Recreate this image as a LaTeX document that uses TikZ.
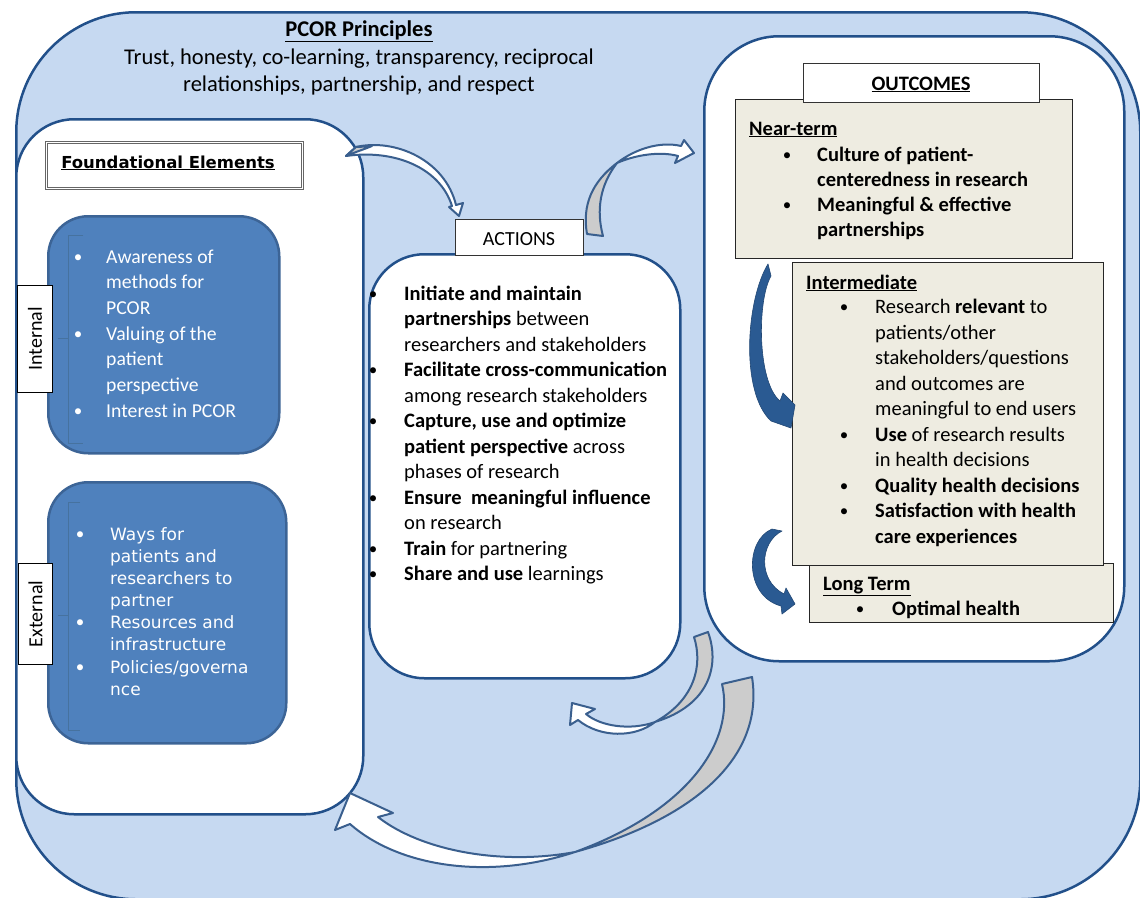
\documentclass[tikz,border=0pt]{standalone}
\usepackage{fontspec}
\setmainfont{Carlito}
\newfontfamily\verd{DejaVu Sans}
\definecolor{bgblue}{HTML}{C6D9F1}
\definecolor{edgeblue}{HTML}{22508A}
\definecolor{boxblue}{HTML}{4F81BD}
\definecolor{boxedge}{HTML}{3C6496}
\definecolor{tanfill}{HTML}{EEECE1}
\definecolor{ribedge}{HTML}{3A5F8E}
\definecolor{ribgray}{HTML}{CCCCCC}
\definecolor{darkarrow}{HTML}{2A5A92}
\definecolor{bracketc}{HTML}{46729F}
\begin{document}
\begin{tikzpicture}[x=1pt,y=-1pt,
  cont/.style={anchor=north west, inner sep=0pt},
  whitebox/.style={cont, draw=edgeblue, fill=white, line width=2.5pt},
  bluebox/.style={cont, draw=boxedge, fill=boxblue, line width=2.5pt, rounded corners=40pt},
  tanbox/.style={cont, draw=black!85, fill=tanfill, line width=1.2pt},
  labbox/.style={cont, draw=black, fill=white, line width=1pt},
  cal/.style={inner sep=0pt, font=\fontsize{20.5}{24}\selectfont},
  ln/.style={cal, anchor=base west},
  bl/.style={inner sep=0pt, anchor=base, yshift=1pt, font=\fontsize{17}{20}\selectfont},
  lni/.style={inner sep=0pt, anchor=base west, text=white, font=\fontsize{19.7}{24}\selectfont},
  bli/.style={inner sep=0pt, anchor=base, yshift=1pt, text=white, font=\fontsize{17}{20}\selectfont},
  lne/.style={inner sep=0pt, anchor=base west, text=white, font=\verd\fontsize{17}{22}\selectfont},
  top/.style={inner sep=0pt, anchor=base, font=\fontsize{22.5}{27}\selectfont},
  ribbon/.style={draw=ribedge, line width=2pt, line join=round},
  darrow/.style={fill=darkarrow, draw=darkarrow!80!black, line width=0.6pt, line join=round}
]
\useasboundingbox (0,0) rectangle (1140,897);
\clip (0,0) rectangle (1140,897);
\fill[white] (0,0) rectangle (1140,897);

% outer principles shape
\node[cont, draw=edgeblue, fill=bgblue, line width=2.5pt, rounded corners=120pt,
      minimum width=1124pt, minimum height=887pt] (outer) at (15,11) {};

% main boxes
\node[whitebox, rounded corners=58pt, minimum width=347pt, minimum height=695pt] (found) at (15,118) {};
\node[whitebox, rounded corners=55pt, minimum width=311pt, minimum height=424pt] (actions) at (368,253) {};
\node[whitebox, rounded corners=75pt, minimum width=420pt, minimum height=625pt] (outcomes) at (703,35) {};

% title text
\node[top, font=\bfseries\fontsize{22.5}{27}\selectfont] (title) at (359,36) {\underline{PCOR Principles}};
\node[top] (pr1) at (359,64) {Trust, honesty, co-learning, transparency, reciprocal};
\node[top] (pr2) at (359,91) {relationships, partnership, and respect};

% Foundational elements
\node[cont, draw=black!60, double=white, double distance=1.5pt, line width=0.8pt, fill=white,
      minimum width=256pt, minimum height=46pt] (fetitle) at (46,142) {};
\node[inner sep=0pt, anchor=base, font=\verd\bfseries\fontsize{16.5}{20}\selectfont] (fetext) at (168,168) {\underline{Foundational Elements}};

% internal box
\node[bluebox, minimum width=231pt, minimum height=237pt] (intbox) at (47,215) {};
\draw[bracketc, line width=1pt] (83,235) -- (68,235) -- (68,443) -- (83,443) (58,338) -- (68,338);
\node[lni] (i1) at (106,263) {Awareness of};
\node[lni] (i2) at (106,288.7) {methods for};
\node[lni] (i3) at (106,314.4) {PCOR};
\node[lni] (i4) at (106,340.1) {Valuing of the};
\node[lni] (i5) at (106,365.8) {patient};
\node[lni] (i6) at (106,391.5) {perspective};
\node[lni] (i7) at (106,417.2) {Interest in PCOR};
\node[bli] (ib1) at (78,263) {•};
\node[bli] (ib2) at (78,340.1) {•};
\node[bli] (ib3) at (78,417.2) {•};
\node[labbox, minimum width=35pt, minimum height=107pt] (intlab) at (17,285) {};
\node[inner sep=0pt, rotate=90, font=\fontsize{20}{24}\selectfont] (inttext) at (intlab.center) {Internal};

% external box
\node[bluebox, minimum width=238pt, minimum height=261pt] (extbox) at (47,481) {};
\draw[bracketc, line width=1pt] (80,502) -- (68,502) -- (68,730) -- (80,730) (58,615) -- (68,615);
\node[lne] (e1) at (110,540) {Ways for};
\node[lne] (e2) at (110,562) {patients and};
\node[lne] (e3) at (110,584) {researchers to};
\node[lne] (e4) at (110,606) {partner};
\node[lne] (e5) at (110,628) {Resources and};
\node[lne] (e6) at (110,650) {infrastructure};
\node[lne] (e7) at (110,673) {Policies/governa};
\node[lne] (e8) at (110,695) {nce};
\node[bli] (eb1) at (80,540) {•};
\node[bli] (eb2) at (80,628) {•};
\node[bli] (eb3) at (80,673) {•};
\node[labbox, minimum width=34pt, minimum height=101pt] (extlab) at (18,563) {};
\node[inner sep=0pt, rotate=90, font=\fontsize{20}{24}\selectfont] (exttext) at (extlab.center) {External};

% actions
\node[labbox, minimum width=128pt, minimum height=36pt, draw=black!80] (actlab) at (455,219) {};
\node[inner sep=0pt, anchor=base, font=\fontsize{20}{24}\selectfont] (acttext) at (519,245) {ACTIONS};
\node[ln] (a1) at (404,300) {\textbf{Initiate and maintain}};
\node[ln] (a2) at (404,325.5) {\textbf{partnerships} between};
\node[ln] (a3) at (404,351) {researchers and stakeholders};
\node[ln] (a4) at (404,376.5) {\textbf{Facilitate cross-communication}};
\node[ln] (a5) at (404,402) {among research stakeholders};
\node[ln] (a6) at (404,427.5) {\textbf{Capture, use and optimize}};
\node[ln] (a7) at (404,453) {\textbf{patient perspective} across};
\node[ln] (a8) at (404,478.5) {phases of research};
\node[ln] (a9) at (404,504) {\textbf{Ensure\ \ meaningful influence}};
\node[ln] (a10) at (404,529.5) {on research};
\node[ln] (a11) at (404,555) {\textbf{Train} for partnering};
\node[ln] (a12) at (404,580.5) {\textbf{Share and use} learnings};
\node[bl] (ab1) at (373,300) {•};
\node[bl] (ab2) at (373,376.5) {•};
\node[bl] (ab3) at (373,427.5) {•};
\node[bl] (ab4) at (373,504) {•};
\node[bl] (ab5) at (373,555) {•};
\node[bl] (ab6) at (373,580.5) {•};

% outcomes
\node[tanbox, minimum width=337pt, minimum height=159pt] (near) at (735,99) {};
\node[labbox, minimum width=236pt, minimum height=39pt, draw=black!80] (outlab) at (803,63) {};
\node[inner sep=0pt, anchor=base, font=\bfseries\fontsize{20.5}{24}\selectfont] (outtext) at (921,90) {\underline{OUTCOMES}};
\node[ln] (n0) at (749,135) {\textbf{\underline{Near-term}}};
\node[ln] (n1) at (817,161) {\textbf{Culture of patient-}};
\node[ln] (n2) at (817,186) {\textbf{centeredness in research}};
\node[ln] (n3) at (817,211) {\textbf{Meaningful \& effective}};
\node[ln] (n4) at (817,236.5) {\textbf{partnerships}};
\node[bl] (nb1) at (787,161) {•};
\node[bl] (nb2) at (787,211) {•};

\node[tanbox, minimum width=304pt, minimum height=59pt] (long) at (809,563) {};
\node[tanbox, minimum width=311pt, minimum height=303pt] (inter) at (792,262) {};
\node[ln] (m0) at (806,289) {\textbf{\underline{Intermediate}}};
\node[ln] (m1) at (875,313.5) {Research \textbf{relevant} to};
\node[ln] (m2) at (875,339) {patients/other};
\node[ln] (m3) at (875,364.5) {stakeholders/questions};
\node[ln] (m4) at (875,390) {and outcomes are};
\node[ln] (m5) at (875,415.5) {meaningful to end users};
\node[ln] (m6) at (875,441) {\textbf{Use} of research results};
\node[ln] (m7) at (875,466.5) {in health decisions};
\node[ln] (m8) at (875,492) {\textbf{Quality health decisions}};
\node[ln] (m9) at (875,517.5) {\textbf{Satisfaction with health}};
\node[ln] (m10) at (875,543) {\textbf{care experiences}};
\node[bl] (mb1) at (844,313.5) {•};
\node[bl] (mb2) at (844,441) {•};
\node[bl] (mb3) at (844,492) {•};
\node[bl] (mb4) at (844,517.5) {•};
\node[ln] (l0) at (823,590) {\textbf{\underline{Long Term}}};
\node[ln] (l1) at (892,615) {\textbf{Optimal health}};
\node[bl] (lb1) at (860,615) {•};

% dark blue curved arrows inside outcomes
\draw[darrow] (768,264) .. controls (746,300) and (740,392) .. (771,421)
   -- (791,428) -- (795,405) -- (783,393) -- (780,401)
   .. controls (757,382) and (757,300) .. (771,276) -- cycle;
\draw[darrow] (772,529) -- (782,531) .. controls (760,542) and (757,580) .. (784,594)
   -- (786,588) -- (795,604) -- (782,614) -- (781,606)
   .. controls (744,596) and (745,540) .. (772,529) -- cycle;

% ribbon arrow: foundation -> actions
\draw[ribbon, fill=white] (346,156) -- (356,147)
   .. controls (395,138) and (445,160) .. (456,205) -- (463,203) -- (459,216) -- (449,207) -- (452,206)
   .. controls (440,168) and (395,149) .. (346,156) -- cycle;
\draw[ribbon, fill=ribgray] (346,156) -- (356,147) .. controls (362,147) and (368,146) .. (372,146)
   .. controls (365,149) and (358,151) .. (346,156) -- cycle;

% ribbon arrow: actions -> outcomes
\draw[ribbon, fill=ribgray] (587,234) -- (603,236) .. controls (596,210) and (600,185) .. (617,163)
   .. controls (592,182) and (582,205) .. (587,234) -- cycle;
\draw[ribbon, fill=white] (617,163) .. controls (635,149) and (660,141) .. (681,146) -- (684,140) -- (694,153)
   -- (675,163) -- (678,156) .. controls (660,151) and (635,155) .. (617,163) -- cycle;

% ribbon arrow: outcomes -> actions
\draw[ribbon, fill=ribgray] (694,637) -- (708,632) .. controls (720,665) and (710,705) .. (655,722)
   .. controls (695,700) and (703,665) .. (694,637) -- cycle;
\draw[ribbon, fill=white] (655,722) .. controls (630,731) and (600,726) .. (586,714) -- (595,709) -- (572,703)
   -- (570,725) -- (578,720) .. controls (600,738) and (635,738) .. (655,722) -- cycle;

% ribbon arrow: outcomes -> foundation
\draw[ribbon, fill=ribgray] (722,684) -- (752,677) .. controls (765,760) and (690,820) .. (575,852)
   .. controls (690,810) and (735,740) .. (722,684) -- cycle;
\draw[ribbon, fill=white] (575,852) .. controls (500,866) and (420,850) .. (378,817) -- (393,813) -- (350,793)
   -- (335,830) -- (350,824) .. controls (400,868) and (490,880) .. (575,852) -- cycle;
\end{tikzpicture}
\end{document}
